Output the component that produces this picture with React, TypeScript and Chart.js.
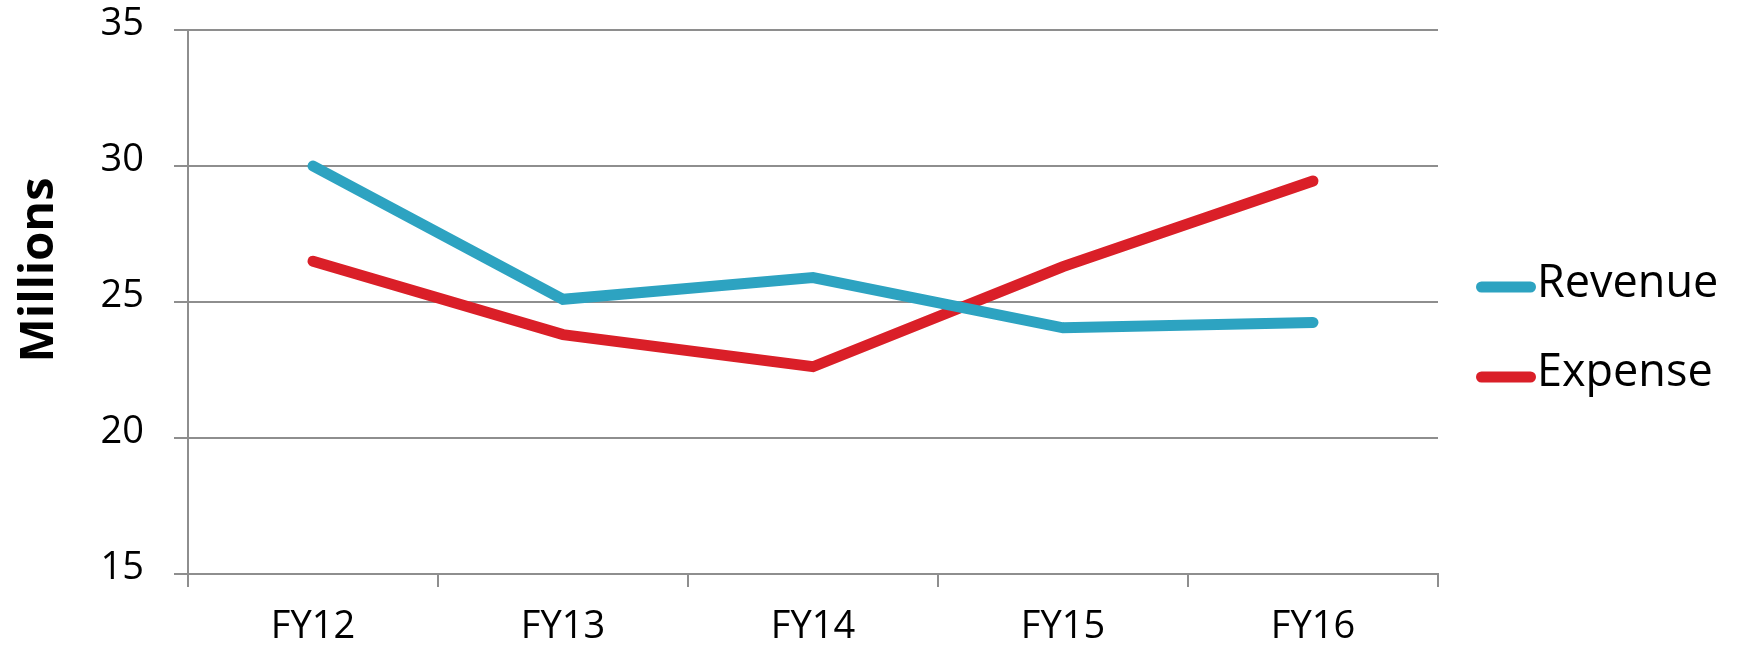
import React, { useEffect, useRef } from "react";
import { Chart, registerables } from "chart.js";

Chart.register(...registerables);

const categories = ["FY12", "FY13", "FY14", "FY15", "FY16"];
const revenue = [30.0, 25.1, 25.9, 24.05, 24.25];
const expense = [26.5, 23.8, 22.62, 26.3, 29.45];
const seriesNames = ["Revenue", "Expense"];
const seriesColors = ["#2DA3C1", "#DA1F28"];
const yMin = 15;
const yMax = 35;
const yStep = 5;
const yTitle = "Millions";

const GRID = "#8E8E8E";
const FONT = '"Open Sans", "DejaVu Sans", sans-serif';

const sideLegend = {
  id: "sideLegend",
  afterDraw(chart: any) {
    const ctx = chart.ctx as CanvasRenderingContext2D;
    const area = chart.chartArea;
    // axis title
    ctx.save();
    ctx.fillStyle = "#000";
    ctx.font = `bold 47px ${FONT}`;
    ctx.translate(53, 270);
    ctx.rotate(-Math.PI / 2);
    ctx.textAlign = "center";
    ctx.textBaseline = "alphabetic";
    ctx.fillText(yTitle, 0, 0);
    ctx.restore();
    // legend
    ctx.save();
    const rows = [287, 377];
    chart.data.datasets.forEach((ds: any, i: number) => {
      const y = rows[i];
      const x0 = area.right + 38;
      ctx.strokeStyle = ds.borderColor;
      ctx.lineWidth = 11;
      ctx.lineCap = "round";
      ctx.beginPath();
      ctx.moveTo(x0 + 5.5, y);
      ctx.lineTo(x0 + 54.5, y);
      ctx.stroke();
      ctx.fillStyle = "#000";
      ctx.font = `45px ${FONT}`;
      ctx.textAlign = "left";
      ctx.textBaseline = "alphabetic";
      ctx.fillText(ds.label, x0 + 61, y + (i === 0 ? 10 : 9));
    });
    ctx.restore();
  },
};

export default function App() {
  const ref = useRef<HTMLCanvasElement | null>(null);
  useEffect(() => {
    if (!ref.current) return;
    const chart = new Chart(ref.current, {
      type: "line",
      data: {
        labels: categories,
        datasets: [
          {
            label: seriesNames[0],
            data: revenue,
            borderColor: seriesColors[0],
            backgroundColor: seriesColors[0],
            borderWidth: 11,
            pointRadius: 0,
            tension: 0,
            borderCapStyle: "round",
            borderJoinStyle: "miter",
          },
          {
            label: seriesNames[1],
            data: expense,
            borderColor: seriesColors[1],
            backgroundColor: seriesColors[1],
            borderWidth: 11,
            pointRadius: 0,
            tension: 0,
            borderCapStyle: "round",
            borderJoinStyle: "miter",
          },
        ],
      },
      options: {
        animation: false,
        responsive: true,
        maintainAspectRatio: false,
        layout: { padding: { top: 30, right: 310, left: 0, bottom: 0 } },
        plugins: { legend: { display: false }, tooltip: { enabled: false } },
        scales: {
          x: {
            offset: true,
            afterFit: (s: any) => {
              s.height = 72;
              s.paddingLeft = 0;
              s.paddingRight = 0;
            },
            grid: {
              display: true,
              drawOnChartArea: false,
              offset: true,
              tickLength: 13,
              color: GRID,
              lineWidth: 2,
            },
            border: { display: true, color: GRID, width: 2 },
            ticks: {
              color: "#000",
              font: { family: FONT, size: 38 },
              padding: 17,
              maxRotation: 0,
            },
          },
          y: {
            min: yMin,
            max: yMax,
            afterFit: (s: any) => {
              s.width = 188;
              s.paddingTop = 0;
              s.paddingBottom = 0;
            },
            grid: { color: GRID, lineWidth: 2, tickLength: 14 },
            border: { display: true, color: GRID, width: 2 },
            ticks: {
              stepSize: yStep,
              color: "#000",
              font: { family: FONT, size: 38 },
              padding: 30,
              labelOffset: -6,
            },
          },
        },
      },
      plugins: [sideLegend],
    });
    return () => chart.destroy();
  }, []);
  return (
    <div style={{ position: "absolute", left: 0, top: 0, width: 1748, height: 646 }}>
      <canvas ref={ref} />
    </div>
  );
}
